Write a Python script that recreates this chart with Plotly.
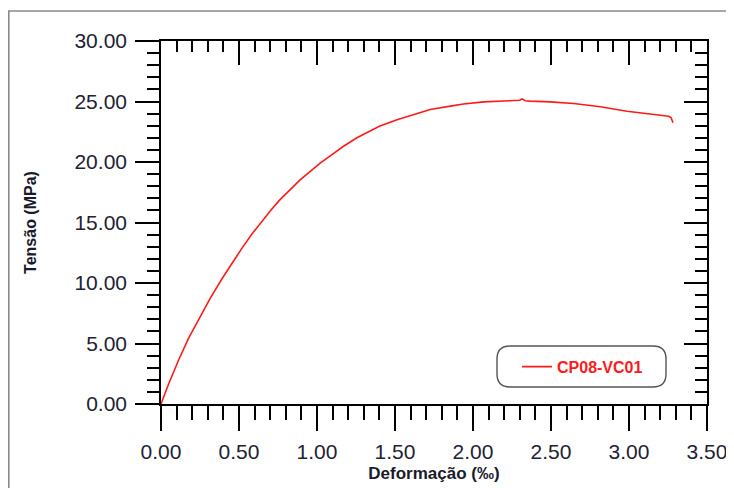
import plotly.graph_objects as go

# Data
strain = [0, 0.05, 0.113, 0.177, 0.252, 0.316, 0.391, 0.476, 0.515, 0.583, 0.64,
          0.70, 0.76, 0.829, 0.89, 0.957, 1.02, 1.085, 1.17, 1.256, 1.33, 1.40,
          1.513, 1.62, 1.726, 1.854, 1.94, 2.068, 2.154, 2.26, 2.30, 2.314,
          2.335, 2.367, 2.495, 2.645, 2.816, 2.987, 3.137, 3.254, 3.27, 3.282]
stress = [0, 1.7, 3.64, 5.44, 7.23, 8.75, 10.35, 12.05, 12.8, 14.05, 15.0,
          15.95, 16.85, 17.75, 18.5, 19.23, 19.9, 20.5, 21.3, 22.0, 22.5, 22.95,
          23.5, 23.95, 24.34, 24.62, 24.8, 24.97, 25.03, 25.08, 25.1, 25.22,
          25.06, 25.03, 24.97, 24.83, 24.56, 24.2, 23.98, 23.78, 23.65, 23.24]
series_name = "CP08-VC01"
x_title = "Deformação (‰)"
y_title = "Tensão (MPa)"

# the page body has an 8px default margin: size the figure to fit the window
OFF = 8
W, H = 734 - OFF, 488 - OFF
ML, MR, MT, MB = 153, 27, 33, 84
PW, PH = W - ML - MR, H - MT - MB

def px(xp):  # window pixel -> paper x
    return (xp - OFF - ML) / PW

def py(yp):  # window pixel -> paper y
    return (H - MB - (yp - OFF)) / PH

FONT = "Arial, Liberation Sans, sans-serif"
TICKC = "#222233"

fig = go.Figure()
fig.add_trace(go.Scatter(x=strain, y=stress, mode="lines", name=series_name,
                         line=dict(color="#ff1a1a", width=1.6)))
# dummy trace for mirrored inside-tick axes
fig.add_trace(go.Scatter(x=[None], y=[None], xaxis="x2", yaxis="y2",
                         showlegend=False, hoverinfo="skip"))

axis_common = dict(showgrid=False, zeroline=False, showline=True,
                   linecolor="black", linewidth=1.6, tickcolor="black",
                   tickwidth=1.6, automargin=False)

fig.update_layout(
    width=W, height=H,
    margin=dict(l=ML, r=MR, t=MT, b=MB),
    paper_bgcolor="white", plot_bgcolor="white",
    showlegend=True,
    xaxis=dict(range=[0, 3.5], dtick=0.5, tick0=0, tickformat=".2f",
               ticks="outside", ticklen=25, ticklabelstandoff=3,
               minor=dict(dtick=0.1, ticks="outside", ticklen=14,
                          tickcolor="black", tickwidth=1.6),
               tickfont=dict(family=FONT, size=21, color=TICKC),
               title=dict(text=x_title, standoff=5,
                          font=dict(family=FONT, size=17, color="#1a1a2a",
                                    weight="bold")),
               **axis_common),
    yaxis=dict(range=[0, 30], dtick=5, tick0=0, tickformat=".2f",
               ticks="outside", ticklen=24, ticklabelstandoff=4,
               minor=dict(dtick=1, ticks="outside", ticklen=12,
                          tickcolor="black", tickwidth=1.6),
               tickfont=dict(family=FONT, size=21, color=TICKC),
               title=dict(text=y_title, standoff=34,
                          font=dict(family=FONT, size=16, color="#1a1a2a",
                                    weight="bold")),
               **axis_common),
    xaxis2=dict(range=[0, 3.5], dtick=0.5, tick0=0, overlaying="x",
                side="top", ticks="inside", ticklen=24, showticklabels=False,
                minor=dict(dtick=0.1, ticks="inside", ticklen=11,
                           tickcolor="black", tickwidth=1.6),
                **axis_common),
    yaxis2=dict(range=[0, 30], dtick=5, tick0=0, overlaying="y",
                side="right", ticks="inside", ticklen=23, showticklabels=False,
                minor=dict(dtick=1, ticks="inside", ticklen=12,
                           tickcolor="black", tickwidth=1.6),
                **axis_common),
    legend=dict(x=px(517), y=py(366.7), xanchor="left", yanchor="middle",
                bgcolor="rgba(0,0,0,0)", borderwidth=0,
                font=dict(family=FONT, size=16, color="#ff1a1a", weight="bold")),
)

# rounded legend frame
x0, x1 = px(497), px(666)
yb, yt = py(387), py(346)
rx, ry = 13 / PW, 13 / PH
path = (f"M {x0+rx},{yt} L {x1-rx},{yt} Q {x1},{yt} {x1},{yt-ry} "
        f"L {x1},{yb+ry} Q {x1},{yb} {x1-rx},{yb} "
        f"L {x0+rx},{yb} Q {x0},{yb} {x0},{yb+ry} "
        f"L {x0},{yt-ry} Q {x0},{yt} {x0+rx},{yt} Z")
fig.add_shape(type="path", path=path, xref="paper", yref="paper",
              line=dict(color="#555555", width=1.4))

# outer frame (top and left edges)
fx, fy = px(8.8), py(11)
fig.add_shape(type="path", xref="paper", yref="paper",
              path=f"M {fx},{py(495)} L {fx},{fy} L {px(745)},{fy}",
              line=dict(color="#8a8a8a", width=1.6))

fig.write_html("out.html")
